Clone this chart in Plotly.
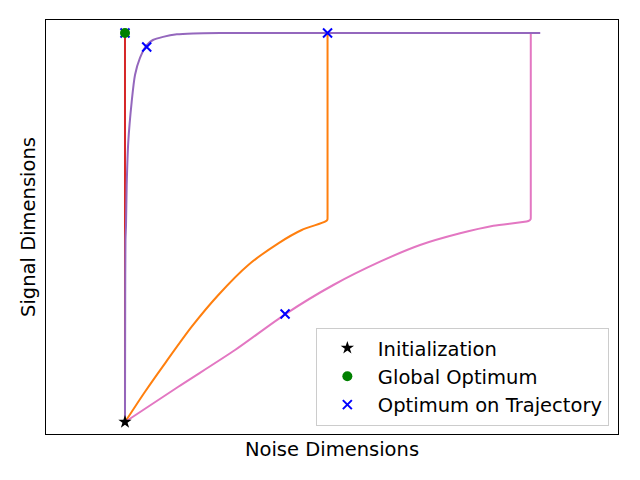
import plotly.graph_objects as go

# trajectories (noise dims, signal dims), scaled so init = (0, 0), optimum signal = 1
red_x = [0.0, 0.0]
red_y = [0.0, 1.0]

orange_x = [0.0, 0.0494, 0.0988, 0.1647, 0.2304, 0.3044, 0.3785, 0.4363, 0.4938, 0.4995, 0.5, 0.5]
orange_y = [0.0, 0.0779, 0.1509, 0.2450, 0.3265, 0.4036, 0.4594, 0.4936, 0.5149, 0.5200, 0.5280, 1.0]

pink_x = [0.0, 0.1316, 0.2716, 0.3951, 0.5143, 0.6296, 0.7284, 0.8272, 0.9094, 0.9958, 1.0012, 1.0017, 1.0017]
pink_y = [0.0, 0.0907, 0.1851, 0.2769, 0.3522, 0.4121, 0.4550, 0.4851, 0.5046, 0.5167, 0.5210, 0.5280, 1.0]

purple_x = [0.0, 0.0005, 0.0012, 0.0025, 0.0042, 0.0081, 0.0165, 0.0247, 0.0370, 0.0536, 0.0690, 0.0940, 0.1280, 0.1680, 0.2350, 1.025]
purple_y = [0.0, 0.3100, 0.4680, 0.5060, 0.6090, 0.7200, 0.8230, 0.8920, 0.9360, 0.9690, 0.9820, 0.9900, 0.9967, 0.9990, 1.0, 1.0]

init_x, init_y = [0.0], [0.0]
glob_x, glob_y = [0.0], [1.0]
traj_opt_x = [0.0, 0.0536, 0.5, 0.3951]
traj_opt_y = [1.0, 0.964, 1.0, 0.2776]

font = "DejaVu Sans, Liberation Sans, sans-serif"

fig = go.Figure()
for xs, ys, c in [(red_x, red_y, "#d62728"), (orange_x, orange_y, "#ff7f0e"),
                  (pink_x, pink_y, "#e377c2"), (purple_x, purple_y, "#9467bd")]:
    fig.add_trace(go.Scatter(x=xs, y=ys, mode="lines",
                             line=dict(color=c, width=2, shape="spline", smoothing=0.7),
                             showlegend=False, hoverinfo="skip"))

fig.add_trace(go.Scatter(x=init_x, y=init_y, mode="markers", name="Initialization", legendrank=1,
                         marker=dict(symbol="star", color="black", size=10)))
fig.add_trace(go.Scatter(x=traj_opt_x, y=traj_opt_y, mode="markers", name="Optimum on Trajectory", legendrank=3,
                         marker=dict(symbol="x-thin", color="blue", size=9, line=dict(color="blue", width=2))))
fig.add_trace(go.Scatter(x=glob_x, y=glob_y, mode="markers", name="Global Optimum", legendrank=2,
                         marker=dict(symbol="circle", color="green", size=10)))

fig.update_xaxes(range=[-0.195, 1.217], showgrid=False, zeroline=False, showticklabels=False,
                 ticks="", showline=True, linecolor="black", linewidth=1, mirror=True, automargin=False,
                 title=dict(text="Noise Dimensions", font=dict(size=19.5, color="black"), standoff=8))
fig.update_yaxes(range=[-0.0308, 1.0334], showgrid=False, zeroline=False, showticklabels=False,
                 ticks="", showline=True, linecolor="black", linewidth=1, mirror=True, automargin=False,
                 title=dict(text="Signal Dimensions", font=dict(size=19.5, color="black"), standoff=4))

fig.update_layout(
    width=640, height=480,
    margin=dict(l=46, r=22, t=20, b=46),
    plot_bgcolor="white", paper_bgcolor="white",
    font=dict(family=font, color="black"),
    legend=dict(x=0.984, y=0.02, xanchor="right", yanchor="bottom",
                bgcolor="white", bordercolor="#cccccc", borderwidth=1,
                font=dict(size=19.5), itemwidth=51, tracegroupgap=0),
)

# drop the browser's default 8px body margin so the figure sits at (0, 0)
fig.write_html("out.html", config={"displayModeBar": False},
               post_script="document.body.style.margin='0';document.body.style.overflow='hidden';")
